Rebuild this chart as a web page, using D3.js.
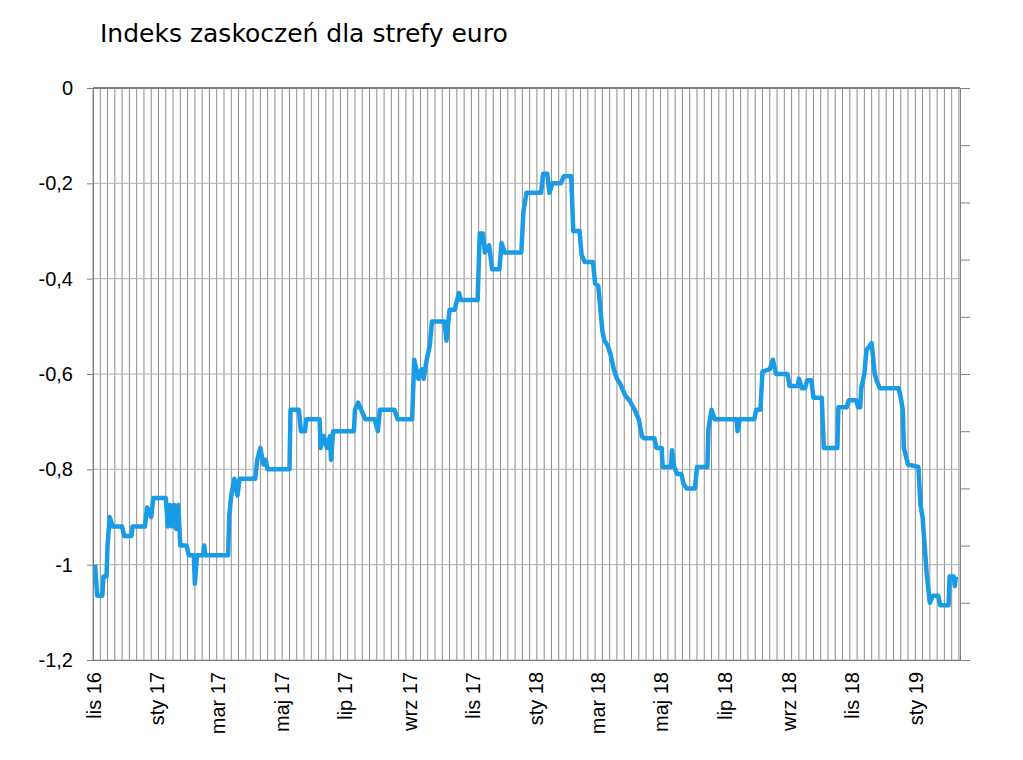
<!DOCTYPE html>
<html><head><meta charset="utf-8">
<script src="https://cdn.jsdelivr.net/npm/d3@7"></script>
<style>body{margin:0;background:#fff}</style></head>
<body><div id="chart"></div>
<script>
// days since 2016-11-01 and index value
const dayOffsets = [2,4,9,10,13,14,16,19,28,30,37,38,50,52,56,58,70,72,74,76,78,80,82,84,90,92,97,98,100,106,107,108,130,131,133,136,139,141,156,158,161,164,166,168,189,190,198,200,204,205,218,219,222,225,228,229,231,251,252,255,258,262,271,274,276,290,293,307,309,313,316,318,321,324,326,338,340,343,348,349,352,354,370,372,375,377,381,384,391,393,396,412,414,417,431,433,437,439,442,450,453,460,462,468,470,473,481,483,486,490,492,495,498,501,504,507,512,516,521,525,528,530,540,542,547,548,556,557,559,562,566,568,571,579,581,591,592,595,598,619,620,622,636,638,642,644,651,654,657,668,670,678,679,682,685,687,691,693,701,703,716,717,725,727,734,736,738,739,742,744,749,752,754,757,775,777,779,780,784,794,796,798,800,802,805,808,813,815,823,824,828,829,830];
const indexValues = [-1.0,-1.065,-1.065,-1.025,-1.025,-0.96,-0.9,-0.92,-0.92,-0.94,-0.94,-0.92,-0.92,-0.88,-0.9,-0.86,-0.86,-0.92,-0.875,-0.92,-0.875,-0.925,-0.875,-0.96,-0.96,-0.98,-0.98,-1.04,-0.98,-0.98,-0.96,-0.98,-0.98,-0.9,-0.855,-0.82,-0.855,-0.82,-0.82,-0.78,-0.755,-0.79,-0.78,-0.8,-0.8,-0.675,-0.675,-0.72,-0.72,-0.695,-0.695,-0.755,-0.73,-0.755,-0.73,-0.78,-0.72,-0.72,-0.675,-0.66,-0.675,-0.695,-0.695,-0.72,-0.675,-0.675,-0.695,-0.695,-0.57,-0.61,-0.59,-0.61,-0.57,-0.54,-0.49,-0.49,-0.53,-0.465,-0.465,-0.455,-0.43,-0.445,-0.445,-0.305,-0.305,-0.345,-0.33,-0.38,-0.38,-0.325,-0.345,-0.345,-0.26,-0.22,-0.22,-0.18,-0.18,-0.22,-0.2,-0.2,-0.185,-0.185,-0.3,-0.3,-0.35,-0.365,-0.365,-0.41,-0.415,-0.51,-0.53,-0.54,-0.56,-0.59,-0.61,-0.62,-0.645,-0.655,-0.675,-0.695,-0.73,-0.735,-0.735,-0.755,-0.755,-0.795,-0.795,-0.76,-0.795,-0.81,-0.81,-0.83,-0.84,-0.84,-0.795,-0.795,-0.715,-0.675,-0.695,-0.695,-0.72,-0.695,-0.695,-0.675,-0.675,-0.595,-0.59,-0.57,-0.6,-0.6,-0.625,-0.625,-0.61,-0.63,-0.63,-0.613,-0.613,-0.65,-0.65,-0.755,-0.755,-0.67,-0.67,-0.655,-0.655,-0.67,-0.67,-0.63,-0.6,-0.55,-0.535,-0.6,-0.615,-0.63,-0.63,-0.65,-0.675,-0.755,-0.79,-0.795,-0.875,-0.9,-0.96,-1.02,-1.08,-1.065,-1.065,-1.085,-1.085,-1.025,-1.025,-1.045,-1.025];
const yTicks = [0, -0.2, -0.4, -0.6, -0.8, -1, -1.2];
const monthNames = ["sty","lut","mar","kwi","maj","cze","lip","sie","wrz","paź","lis","gru"];

const startDate = new Date(2016, 10, 1);
const endDate = d3.timeDay.offset(startDate, 834);
const data = dayOffsets.map((d, i) => ({date: d3.timeDay.offset(startDate, d), value: indexValues[i]}));

const wSvg = 1023, hSvg = 760;
const xLeft = 93, xRight = 960, yTop = 88, yBottom = 660;

const svg = d3.select("#chart").append("svg").attr("width", wSvg).attr("height", hSvg)
    .style("font-family", "DejaVu Sans, Verdana, sans-serif");

const x = d3.scaleTime([startDate, endDate], [xLeft, xRight]);
const y = d3.scaleLinear([-1.2, 0], [yBottom, yTop]);

// weekly vertical gridlines
svg.append("g").selectAll("line")
    .data(d3.timeDay.range(startDate, endDate, 7))
    .join("line")
    .attr("x1", d => x(d)).attr("x2", d => x(d))
    .attr("y1", yTop).attr("y2", yBottom)
    .attr("stroke", "#8c8c8c").attr("stroke-width", 1);

// horizontal gridlines
svg.append("g").selectAll("line")
    .data(yTicks)
    .join("line")
    .attr("x1", xLeft).attr("x2", xRight)
    .attr("y1", d => y(d)).attr("y2", d => y(d))
    .attr("stroke", "#b0b0b0").attr("stroke-width", 1);

svg.append("line").attr("x1", xLeft).attr("x2", xRight).attr("y1", yTop).attr("y2", yTop)
    .attr("stroke", "#808080").attr("stroke-width", 2);

let yAxis = d3.axisLeft(y).tickValues(yTicks).tickSize(6).tickPadding(14)
    .tickFormat(d => String(d).replace(".", ","));
let gy = svg.append("g").attr("transform", `translate(${xLeft},0)`).call(yAxis);
gy.selectAll("text").attr("font-size", 20).attr("fill", "#000");

let rScale = d3.scaleLinear([0, 10], [yBottom, yTop]);
svg.append("g").attr("transform", `translate(${xRight},0)`)
    .call(d3.axisRight(rScale).ticks(10).tickSize(10).tickFormat(""));

let gx = svg.append("g").attr("transform", `translate(0,${yBottom})`)
    .call(d3.axisBottom(x).ticks(d3.timeMonth.every(2)).tickSize(0)
        .tickFormat(d => monthNames[d.getMonth()] + " " + String(d.getFullYear()).slice(2)));
gx.selectAll("text")
    .attr("font-size", 20).attr("fill", "#000")
    .attr("transform", "rotate(-90)")
    .attr("text-anchor", "end")
    .attr("x", -12).attr("y", 0).attr("dy", "0.35em");

svg.selectAll(".domain, .tick line").attr("stroke", "#808080");

const line = d3.line().x(d => x(d.date)).y(d => y(d.value));
svg.append("path").datum(data)
    .attr("d", line)
    .attr("fill", "none")
    .attr("stroke", "#1a9be6")
    .attr("stroke-width", 4.5)
    .attr("stroke-linejoin", "round");

svg.append("text").attr("x", 100).attr("y", 42)
    .attr("font-size", 25).attr("fill", "#000")
    .text("Indeks zaskoczeń dla strefy euro");
</script></body></html>
